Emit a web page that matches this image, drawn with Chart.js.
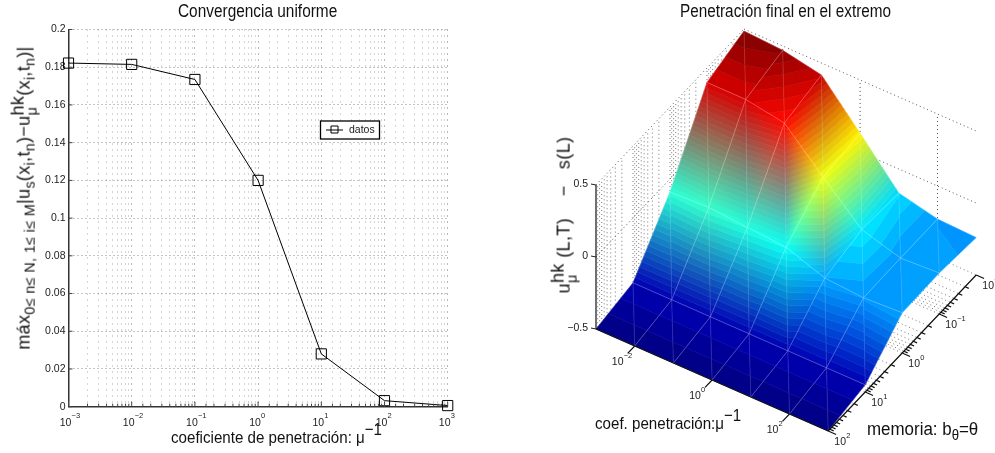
<!DOCTYPE html>
<html>
<head>
<meta charset="utf-8">
<title>Convergencia y penetración</title>
<script src="https://cdn.jsdelivr.net/npm/chart.js@4"></script>
<style>
  html, body { margin: 0; padding: 0; background: #fff; overflow: hidden; width: 995px; height: 453px; }
  canvas { position: absolute; top: 0; }
  #convChart { left: 0; }
  #surfChart { left: 560px; }
  .lbl { position: absolute; white-space: nowrap; font-family: "Liberation Sans", Arial, sans-serif; color: #111; line-height: 1; transform-origin: center; }
  .lbl sub, .lbl sup { line-height: 0; font-size: .78em; }
  .flat { transform-origin: left; }
  .stack { display: inline-block; vertical-align: middle; line-height: .8em; text-align: left; }
  .stack b { display: block; font-weight: normal; }
  .stack i { display: block; font-style: normal; font-size: .8em; }
</style>
</head>
<body>
<canvas id="convChart" width="515" height="453" style="width:515px;height:453px"></canvas>
<canvas id="surfChart" width="451" height="453" style="width:451px;height:453px"></canvas>

<div class="lbl flat" style="left:178px;top:3px;font-size:17.5px;transform:scaleX(.88)">Convergencia uniforme</div>
<div class="lbl flat" style="left:680px;top:3px;font-size:17.5px;transform:scaleX(.875)">Penetración final en el extremo</div>
<div class="lbl" style="left:25px;top:198px;font-size:18px;letter-spacing:.35px;transform:translate(-50%,-50%) rotate(-90deg)">máx<sub style="font-size:.8em">0≤ n≤ N, 1≤ i≤ M</sub>|u<sub>s</sub>(x<sub>i</sub>,t<sub>n</sub>)−u<span class="stack"><b>hk</b><i>μ</i></span>(x<sub>i</sub>,t<sub>n</sub>)|</div>
<div class="lbl flat" style="left:171px;top:429px;font-size:17px;transform:scaleX(.89)">coeficiente de penetración: μ<sup style="font-size:1em;position:relative;top:-.1em">−1</sup></div>
<div class="lbl" style="left:565px;top:215px;font-size:18px;letter-spacing:.4px;transform:translate(-50%,-50%) rotate(-90deg)">u<span class="stack"><b>hk</b><i>μ</i></span> (L,T) &nbsp;&nbsp; − &nbsp;&nbsp;s(L)</div>
<div class="lbl flat" style="left:595px;top:415px;font-size:17px;transform:scaleX(.89)">coef. penetración:μ<sup style="font-size:1em;position:relative;top:-.1em">−1</sup></div>
<div class="lbl flat" style="left:867px;top:420px;font-size:18px;transform:scaleX(.94)">memoria: b<sub>θ</sub>=θ</div>

<script>
const FONT = '"Liberation Sans", Arial, sans-serif';

// left chart
const penetracion = [1e-3, 1e-2, 1e-1, 1e0, 1e1, 1e2, 1e3];
const errorMax = [0.1822, 0.1815, 0.1735, 0.12, 0.028, 0.0032, 0.0006];
const yTicks = ["0", "0.02", "0.04", "0.06", "0.08", "0.1", "0.12", "0.14", "0.16", "0.18", "0.2"];

// right chart
const coefMu = [1e-3, 1e-2, 1e-1, 1e0, 1e1, 1e2, 1e3];
const memoriaB = [1e2, 1e1, 1e0, 1e-1, 1e-2];
const zMu0 = [-0.5, -0.45, -0.09, 0.40, 0.486];
const zMu1 = [-0.5, -0.45, -0.08, 0.40, 0.47];
const zMu2 = [-0.5, -0.45, -0.10, 0.354, 0.417];
const zMu3 = [-0.5, -0.45, -0.12, 0.097, 0.13];
const zMu4 = [-0.5, -0.45, -0.215, -0.15, -0.167];
const zMu5 = [-0.5, -0.45, -0.235, -0.23, -0.23];
const zMu6 = [-0.5, -0.45, -0.22, -0.215, -0.24];
const surfaceZ = [zMu0, zMu1, zMu2, zMu3, zMu4, zMu5, zMu6];
const zTicks = [-0.5, 0, 0.5];
const zTickLabels = ["−0.5", "0", "0.5"];
const muLabelled = [1e-2, 1e0, 1e2];

function decadeOf(v) {
  const e = Math.round(Math.log10(v));
  return Math.abs(v / Math.pow(10, e) - 1) < 1e-6 ? e : null;
}

function drawPower(ctx, cx, cy, exp) {
  // "10" centred on cx,cy with a small exponent
  ctx.save();
  ctx.fillStyle = "#222";
  ctx.textBaseline = "middle";
  ctx.textAlign = "center";
  ctx.font = "10.5px " + FONT;
  ctx.fillText("10", cx, cy);
  ctx.textAlign = "left";
  ctx.font = "7.5px " + FONT;
  ctx.fillText(exp < 0 ? "−" + (-exp) : String(exp), cx + 6, cy - 6);
  ctx.restore();
}

const convPlugin = {
  id: "convExtras",
  afterDraw(chart) {
    const { ctx, scales, chartArea } = chart;
    const xs = scales.x, ys = scales.y;
    ctx.save();
    // inner tick marks, the axis only draws outer ones
    ctx.strokeStyle = "#444";
    ctx.lineWidth = 1;
    ctx.beginPath();
    xs.ticks.forEach(t => {
      const px = xs.getPixelForValue(t.value);
      const len = decadeOf(t.value) !== null ? 5 : 3;
      ctx.moveTo(px, chartArea.bottom);
      ctx.lineTo(px, chartArea.bottom - len);
    });
    ys.ticks.forEach(t => {
      const py = ys.getPixelForValue(t.value);
      ctx.moveTo(chartArea.left, py);
      ctx.lineTo(chartArea.left + 4, py);
    });
    ctx.stroke();
    ctx.restore();

    penetracion.forEach(v => {
      ctx.save();
      ctx.fillStyle = "#222";
      ctx.textAlign = "left";
      ctx.textBaseline = "middle";
      ctx.font = "7.5px " + FONT;
      const e = decadeOf(v);
      ctx.fillText(e < 0 ? "−" + (-e) : String(e), xs.getPixelForValue(v) + 3, chartArea.bottom + 9);
      ctx.restore();
    });

    // legend box
    const ds = chart.data.datasets[0];
    ctx.save();
    ctx.fillStyle = "#fff";
    ctx.strokeStyle = "#000";
    ctx.lineWidth = 1.3;
    ctx.fillRect(320.5, 121, 59, 18);
    ctx.strokeRect(320.5, 121, 59, 18);
    ctx.lineWidth = 1;
    ctx.beginPath();
    ctx.moveTo(326, 130);
    ctx.lineTo(343, 130);
    ctx.rect(331, 126, 7, 7);
    ctx.stroke();
    ctx.fillStyle = "#222";
    ctx.font = "10.5px " + FONT;
    ctx.textBaseline = "middle";
    ctx.fillText(ds.label, 349, 130.5);
    ctx.restore();
  }
};

new Chart(document.getElementById("convChart"), {
  type: "scatter",
  data: {
    datasets: [{
      label: "datos",
      data: penetracion.map((x, i) => ({ x: x, y: errorMax[i] })),
      showLine: true,
      borderColor: "#000",
      borderWidth: 1,
      backgroundColor: "transparent",
      pointStyle: "rect",
      pointRadius: 7.2,
      pointBorderWidth: 1,
      pointBorderColor: "#000",
      clip: false
    }]
  },
  options: {
    responsive: false,
    animation: false,
    layout: { padding: { left: 0, right: 67.3, top: 29.5, bottom: 0 } },
    plugins: {
      legend: { display: false },
      tooltip: { enabled: false }
    },
    scales: {
      x: {
        type: "logarithmic",
        min: 1e-3,
        max: 1e3,
        afterFit(scale) { scale.height = 46.3; },
        border: { display: true, color: "#333", width: 1.5, dash: [1, 5] },
        grid: {
          drawTicks: false,
          lineWidth: 1,
          color: ctx => (ctx.tick && decadeOf(ctx.tick.value) !== null ? "#777" : "#aaa")
        },
        ticks: {
          autoSkip: false,
          maxRotation: 0,
          minRotation: 0,
          padding: 10,
          labelOffset: -3,
          color: "#222",
          font: { family: FONT, size: 10.5 },
          callback: v => (decadeOf(v) !== null ? "10" : "")
        }
      },
      y: {
        min: 0,
        max: 0.2,
        afterFit(scale) { scale.width = 68.5; },
        border: { display: true, color: "#333", width: 1.5, dash: [1, 3] },
        grid: { drawTicks: false, lineWidth: 1, color: "#8a8a8a" },
        ticks: {
          stepSize: 0.02,
          padding: 3,
          color: "#222",
          font: { family: FONT, size: 10.5 },
          callback: (v, i) => yTicks[i]
        }
      }
    }
  },
  plugins: [convPlugin]
});

// view of the 3d box, in plot units of the hidden scales
const VIEW = { x0: 36, y0: 124, muX: 38.7, muY: -17, bX: 37, bY: 39, z: 144 };
function project(mu, b, z) {
  const u = Math.log10(mu) + 3;
  const v = 2 - Math.log10(b);
  return {
    x: VIEW.x0 + VIEW.muX * u + VIEW.bX * v,
    y: VIEW.y0 + VIEW.muY * u + VIEW.bY * v + VIEW.z * (z + 0.5)
  };
}

function jet(t) {
  const c = v => Math.max(0, Math.min(1, v));
  return [
    c(Math.min(4 * t - 1.5, 4.5 - 4 * t)) * 255,
    c(Math.min(4 * t - 0.5, 3.5 - 4 * t)) * 255,
    c(Math.min(4 * t + 0.5, 2.5 - 4 * t)) * 255
  ];
}

const gapPoint = { x: NaN, y: NaN };
function lines(list) {
  const out = [];
  list.forEach(seg => { out.push(seg[0], seg[1], gapPoint); });
  return out;
}

const bMinors = [];
for (let e = 2; e > -2; e--) {
  for (let m = 9; m >= 1; m--) bMinors.push(m * Math.pow(10, e - 1));
}
const Z0 = -0.5, Z1 = 0.5;
const muMin = coefMu[0], muMax = coefMu[coefMu.length - 1];
const bMin = memoriaB[memoriaB.length - 1], bMax = memoriaB[0];

const wallDots = lines([
  [project(muMin, bMax, Z1), project(muMin, bMin, Z1)],
  [project(muMin, bMin, Z1), project(muMax, bMin, Z1)],
  [project(muMin, bMax, 0), project(muMin, bMin, 0)],
  [project(muMin, bMin, 0), project(muMax, bMin, 0)],
  ...muLabelled.map(m => [project(m, bMin, Z0), project(m, bMin, Z1)])
]);
const wallDotsFaint = lines([
  ...bMinors.map(b => [project(muMin, b, Z0), project(muMin, b, Z1)]),
  ...bMinors.map(b => [project(muMin, b, Z0), project(muMax, b, Z0)])
]);

const axisLines = lines([
  [project(muMin, bMax, Z0), project(muMin, bMax, Z1)],
  [project(muMin, bMax, Z0), project(muMax, bMax, Z0)],
  [project(muMax, bMax, Z0), project(muMax, bMin, Z0)],
  ...muLabelled.map(m => [project(m, bMax, Z0), project(m, bMax * 1.55, Z0)]),
  ...bMinors.concat([bMax]).map(b => [project(muMax, b, Z0), project(muMax * (decadeOf(b) !== null ? 1.6 : 1.25), b, Z0)])
]);

const surfacePoints = [];
const surfaceValues = [];
coefMu.forEach((mu, i) => {
  memoriaB.forEach((b, j) => {
    surfacePoints.push(project(mu, b, surfaceZ[i][j]));
    surfaceValues.push(surfaceZ[i][j]);
  });
});

function plain(label, data, color, width, dash, order) {
  return {
    label: label,
    data: data,
    showLine: true,
    spanGaps: false,
    borderColor: color,
    borderWidth: width,
    borderDash: dash,
    pointRadius: 0,
    order: order,
    clip: false
  };
}

const BAND = 0.022;
function mixPoint(p, q, t) {
  return {
    x: p.x + (q.x - p.x) * t,
    y: p.y + (q.y - p.y) * t,
    z: p.z + (q.z - p.z) * t,
    c: [0, 1, 2].map(k => p.c[k] + (q.c[k] - p.c[k]) * t)
  };
}
const css = c => "rgb(" + c.map(Math.round).join(",") + ")";

function fillTriangle(ctx, A, B, C) {
  const [a, b, c] = [A, B, C].sort((p, q) => p.z - q.z);
  const range = c.z - a.z;
  const n = Math.max(1, Math.ceil(range / BAND));
  const onLong = z => mixPoint(a, c, range > 0 ? (z - a.z) / range : 0);
  const onShort = z => (z < b.z
    ? mixPoint(a, b, (z - a.z) / ((b.z - a.z) || 1))
    : mixPoint(b, c, (z - b.z) / ((c.z - b.z) || 1)));
  for (let k = 0; k < n; k++) {
    const z0 = a.z + range * k / n;
    const z1 = a.z + range * (k + 1) / n;
    const zm = (z0 + z1) / 2;
    const P = onLong(zm), Q = onShort(zm);
    const g = ctx.createLinearGradient(P.x, P.y, Q.x, Q.y);
    g.addColorStop(0, css(P.c));
    g.addColorStop(1, css(Q.c));
    const poly = [onLong(z0), onLong(z1), onShort(z1)];
    if (z0 < b.z && b.z < z1) poly.push(b);
    poly.push(onShort(z0));
    ctx.beginPath();
    poly.forEach((p, m) => (m ? ctx.lineTo(p.x, p.y) : ctx.moveTo(p.x, p.y)));
    ctx.closePath();
    ctx.fillStyle = g;
    ctx.strokeStyle = g;
    ctx.lineWidth = 0.6;
    ctx.fill();
    ctx.stroke();
  }
}

const surfacePlugin = {
  id: "surface",
  afterDatasetDraw(chart, args) {
    if (chart.data.datasets[args.index].label !== "superficie") return;
    const ctx = chart.ctx;
    const els = args.meta.data;
    const all = surfaceValues;
    const lo = Math.min(...all), hi = Math.max(...all);
    const nB = memoriaB.length;
    const vert = (i, j) => {
      const k = i * nB + j;
      return { x: els[k].x, y: els[k].y, z: all[k], c: jet((all[k] - lo) / (hi - lo)) };
    };
    ctx.save();
    const seams = [];
    for (let j = nB - 2; j >= 0; j--) {
      for (let i = 0; i < coefMu.length - 1; i++) {
        const v00 = vert(i, j), v01 = vert(i, j + 1), v10 = vert(i + 1, j), v11 = vert(i + 1, j + 1);
        fillTriangle(ctx, v01, v11, v10);
        fillTriangle(ctx, v00, v01, v10);
        seams.push([v00, v01], [v00, v10], [v01, v10], [v01, v11], [v10, v11]);
      }
    }
    ctx.strokeStyle = "rgba(255,255,255,0.2)";
    ctx.lineWidth = 0.7;
    ctx.beginPath();
    seams.forEach(s => { ctx.moveTo(s[0].x, s[0].y); ctx.lineTo(s[1].x, s[1].y); });
    ctx.stroke();
    ctx.restore();
  },
  afterDraw(chart) {
    const { ctx, scales } = chart;
    const px = p => ({ x: scales.x.getPixelForValue(p.x), y: scales.y.getPixelForValue(p.y) });
    ctx.save();
    ctx.fillStyle = "#222";
    ctx.strokeStyle = "#222";
    ctx.font = "10.5px " + FONT;
    ctx.textAlign = "right";
    ctx.textBaseline = "middle";
    zTicks.forEach((z, i) => {
      const p = px(project(muMin, bMax, z));
      ctx.beginPath();
      ctx.moveTo(p.x, p.y);
      ctx.lineTo(p.x - 5, p.y - 1);
      ctx.stroke();
      ctx.fillText(zTickLabels[i], p.x - 8, p.y - 1);
    });
    ctx.restore();
    muLabelled.forEach(m => {
      const p = px(project(m, bMax, Z0));
      drawPower(ctx, p.x - 17, p.y + 16, decadeOf(m));
    });
    memoriaB.forEach(b => {
      const p = px(project(muMax, b, Z0));
      drawPower(ctx, p.x + 12, p.y + 11, decadeOf(b));
    });
  }
};

new Chart(document.getElementById("surfChart"), {
  type: "scatter",
  data: {
    datasets: [
      plain("ejes", axisLines, "#111", 1.2, [], 0),
      { label: "superficie", data: surfacePoints, showLine: false, pointRadius: 0, order: 1, clip: false },
      plain("rejilla", wallDots, "#555", 1, [1, 3], 2),
      plain("rejilla menor", wallDotsFaint, "#777", 1, [1, 3], 3)
    ]
  },
  options: {
    responsive: false,
    animation: false,
    layout: { padding: { top: 25.5 } },
    plugins: {
      legend: { display: false },
      tooltip: { enabled: false }
    },
    scales: {
      x: { display: false, min: 0, max: 451 },
      y: { display: false, min: 0, max: 427.5 }
    }
  },
  plugins: [surfacePlugin]
});
</script>
</body>
</html>
